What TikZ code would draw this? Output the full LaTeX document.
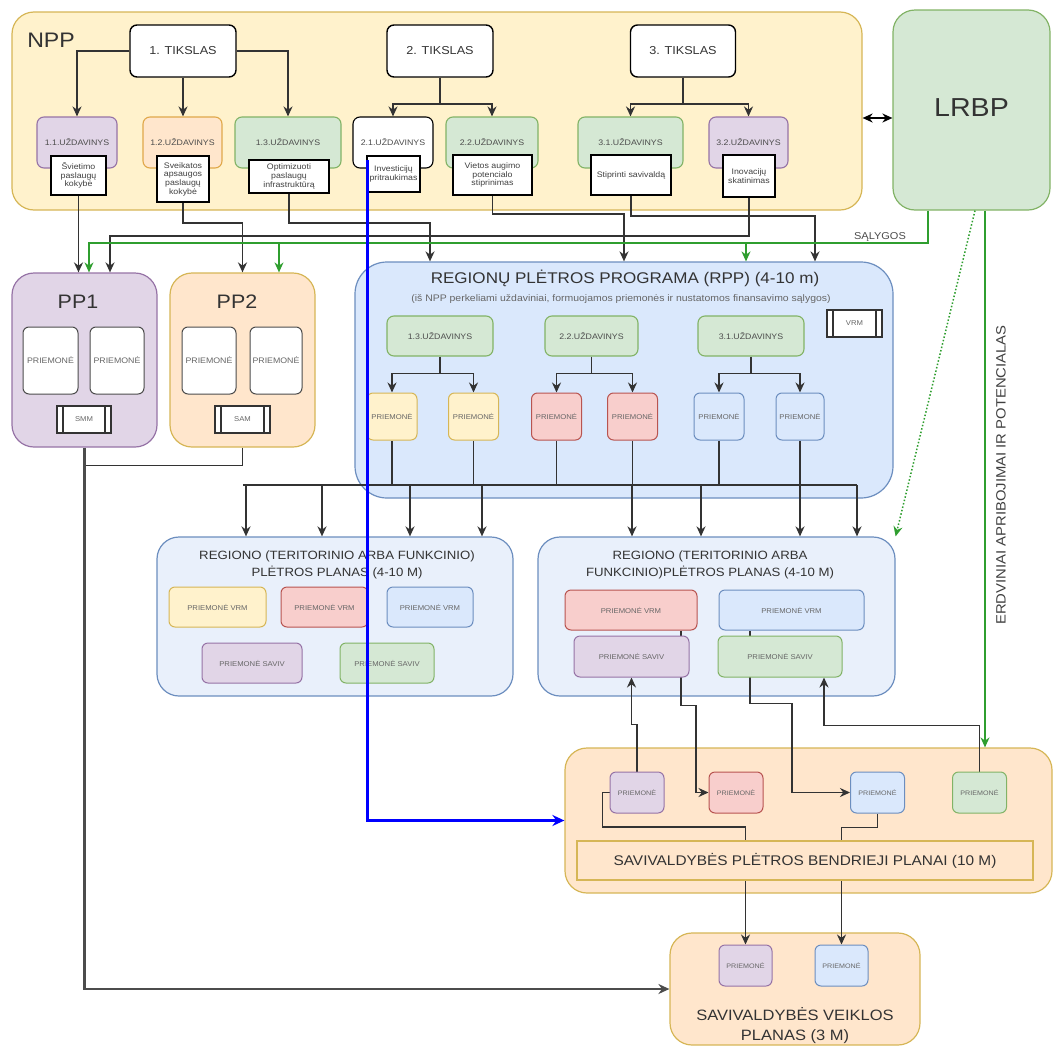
\documentclass[tikz,border=0pt]{standalone}
\usepackage{fontspec}
\setmainfont{Liberation Sans}[FakeStretch=1.1]
\usetikzlibrary{arrows.meta}
\usetikzlibrary{positioning}

\definecolor{ylwF}{HTML}{FFF2CC}\definecolor{ylwD}{HTML}{D6B656}
\definecolor{orgF}{HTML}{FFE6CC}\definecolor{orgD}{HTML}{E0A84A}
\definecolor{prpF}{HTML}{E1D5E7}\definecolor{prpD}{HTML}{9673A6}
\definecolor{grnF}{HTML}{D5E8D4}\definecolor{grnD}{HTML}{82B366}
\definecolor{redF}{HTML}{F8CECC}\definecolor{redD}{HTML}{B85450}
\definecolor{bluF}{HTML}{DAE8FC}\definecolor{bluD}{HTML}{6C8EBF}
\definecolor{rplF}{HTML}{E9F0FB}
\definecolor{lnk}{HTML}{333333}
\definecolor{glnk}{HTML}{2F9E2F}
\definecolor{txt}{HTML}{333333}

\pgfdeclarelayer{bg}
\pgfdeclarelayer{lines}
\pgfsetlayers{bg,lines,main}

\tikzset{
 cont/.style={draw, line width=1.2pt, rounded corners=22pt, inner sep=0pt},
 tiksl/.style={draw=black, fill=white, line width=1.4pt, rounded corners=7pt, minimum width=106pt, minimum height=52pt, font=\fontsize{11.5}{13}\selectfont, text=txt},
 udz/.style={draw, line width=1.1pt, rounded corners=7pt, minimum height=51pt, inner sep=0pt, font=\fontsize{8}{9}\selectfont, text=black!70},
 desc/.style={draw=black, fill=white, line width=1.4pt, align=center, inner sep=0pt, font=\fontsize{8}{8.7}\selectfont, text=black!75},
 prm/.style={draw, line width=1pt, rounded corners=6pt, inner sep=0pt, font=\fontsize{7}{8}\selectfont, text=black!60},
 proc/.style={draw=black!80, fill=white, line width=1.1pt, minimum width=54pt, minimum height=27pt, inner sep=0pt, font=\fontsize{7}{8}\selectfont, text=black!60,
  path picture={\draw[line width=1.1pt] ([xshift=6pt]path picture bounding box.north west) -- ([xshift=6pt]path picture bounding box.south west);
   \draw[line width=1.1pt] ([xshift=-6pt]path picture bounding box.north east) -- ([xshift=-6pt]path picture bounding box.south east);}},
 ln/.style={draw=lnk, line width=1.7pt},
 arr/.style={draw=lnk, line width=1.7pt, -{Stealth[length=10pt,width=9pt]}},
 dbl/.style={draw=black, line width=1.7pt, {Stealth[length=10pt,width=9pt]}-{Stealth[length=10pt,width=9pt]}},
 garr/.style={draw=glnk, line width=1.5pt, -{Stealth[length=10pt,width=9pt]}},
 parr/.style={draw=black!70, line width=2.2pt, -{Stealth[length=11pt,width=10pt]}},
 barr/.style={draw=blue, line width=2.4pt, -{Stealth[length=12pt,width=11pt]}}
}

\begin{document}
\begin{tikzpicture}[x=1pt,y=-1pt]
\useasboundingbox (0,0) rectangle (1053,1047);

% containers
\begin{pgfonlayer}{bg}
\node[cont, fill=ylwF, draw=ylwD, minimum width=850pt, minimum height=198pt] (npp) at (437,111) {};
\node[cont, fill=grnF, draw=grnD, minimum width=157pt, minimum height=200pt] (lrbp) at (971.5,110) {};
\node[cont, fill=prpF, draw=prpD, minimum width=145pt, minimum height=174pt] (pp1) at (84.5,360) {};
\node[cont, fill=orgF, draw=ylwD, minimum width=145pt, minimum height=174pt] (pp2) at (242.5,360) {};
\node[cont, rounded corners=32pt, fill=bluF, draw=bluD, minimum width=538pt, minimum height=236pt] (rpp) at (624,380) {};
\node[cont, fill=rplF, draw=bluD, minimum width=356pt, minimum height=159pt] (rpl1) at (335,616.5) {};
\node[cont, fill=rplF, draw=bluD, minimum width=357pt, minimum height=159pt] (rpl2) at (716.5,616.5) {};
\node[cont, fill=orgF, draw=ylwD, minimum width=487pt, minimum height=145pt] (svbp) at (808.5,820.5) {};
\node[cont, fill=orgF, draw=ylwD, minimum width=250pt, minimum height=112pt] (svp) at (795,989) {};
\end{pgfonlayer}

% titles
\node[font=\fontsize{21}{24}\selectfont, text=txt] (nppT) at (51,40) {NPP};
\node[font=\fontsize{26}{30}\selectfont, text=txt] (lrbpT) at (971.5,108) {LRBP};
\node[font=\fontsize{19.5}{22}\selectfont, text=txt] (pp1T) at (78,302) {PP1};
\node[font=\fontsize{19.5}{22}\selectfont, text=txt] (pp2T) at (237,302) {PP2};
\node[font=\fontsize{15.5}{18}\selectfont, text=txt] (rppT) at (625,278) {REGIONŲ PLĖTROS PROGRAMA (RPP) (4-10 m)};
\node[font=\fontsize{9.5}{11}\selectfont, text=black!60] (rppS) at (621,299) {(iš NPP perkeliami uždaviniai, formuojamos priemonės ir nustatomos finansavimo sąlygos)};
\node[font=\fontsize{12}{17}\selectfont, align=center, text=txt] (rpl1T) at (337,564.5) {REGIONO (TERITORINIO ARBA FUNKCINIO)\\PLĖTROS PLANAS (4-10 M)};
\node[font=\fontsize{12}{17}\selectfont, align=center, text=txt] (rpl2T) at (710,564.5) {REGIONO (TERITORINIO ARBA\\FUNKCINIO)PLĖTROS PLANAS (4-10 M)};
\node[font=\fontsize{15}{20}\selectfont, align=center, text=txt] (svpT) at (795,1026) {SAVIVALDYBĖS VEIKLOS\\PLANAS (3 M)};
\node[font=\fontsize{10}{12}\selectfont, text=black!70] (salyg) at (880,237) {SĄLYGOS};
\node[rotate=90, font=\fontsize{13.5}{15}\selectfont, text=black!75] (erdv) at (1001,475) {ERDVINIAI APRIBOJIMAI IR POTENCIALAS};

% NPP
\node[tiksl] (t1) at (183,51) {1. TIKSLAS};
\node[tiksl] (t2) at (440,51) {2. TIKSLAS};
\node[tiksl, minimum width=105pt] (t3) at (683,51) {3. TIKSLAS};
\node[udz, fill=prpF, draw=prpD, minimum width=80pt] (u11) at (77,142.5) {1.1.UŽDAVINYS};
\node[udz, fill=orgF, draw=orgD, minimum width=79pt] (u12) at (182.5,142.5) {1.2.UŽDAVINYS};
\node[udz, fill=grnF, draw=grnD, minimum width=106pt] (u13) at (288,142.5) {1.3.UŽDAVINYS};
\node[udz, fill=white, draw=black, minimum width=80pt] (u21) at (393,142.5) {2.1.UŽDAVINYS};
\node[udz, fill=grnF, draw=grnD, minimum width=92pt] (u22) at (492,142.5) {2.2.UŽDAVINYS};
\node[udz, fill=grnF, draw=grnD, minimum width=105pt] (u31) at (630.5,142.5) {3.1.UŽDAVINYS};
\node[udz, fill=prpF, draw=prpD, minimum width=79pt] (u32) at (748.5,142.5) {3.2.UŽDAVINYS};
\node[desc, minimum width=55pt, minimum height=39pt] (d11) at (78.5,175.5) {Švietimo\\paslaugų\\kokybė};
\node[desc, minimum width=52pt, minimum height=46pt] (d12) at (183,179) {Sveikatos\\apsaugos\\paslaugų\\kokybė};
\node[desc, minimum width=80pt, minimum height=33pt] (d13) at (289,176.5) {Optimizuoti\\paslaugų\\infrastruktūrą};
\node[desc, minimum width=53pt, minimum height=36pt] (d21) at (393.5,174) {Investicijų\\pritraukimas};
\node[desc, minimum width=79pt, minimum height=40pt] (d22) at (492.5,175) {Vietos augimo\\potencialo\\stiprinimas};
\node[desc, minimum width=80pt, minimum height=40pt] (d31) at (631,175) {Stiprinti savivaldą};
\node[desc, minimum width=52pt, minimum height=42pt] (d32) at (749,176) {Inovacijų\\skatinimas};

% PP1, PP2
\node[prm, fill=white, draw=black!70, minimum width=55pt, minimum height=67pt, font=\fontsize{8}{9}\selectfont] (p1a) at (50.5,360.5) {PRIEMONĖ};
\node[prm, fill=white, draw=black!70, minimum width=54pt, minimum height=67pt, font=\fontsize{8}{9}\selectfont] (p1b) at (117,360.5) {PRIEMONĖ};
\node[proc] (smm) at (84,419.5) {SMM};
\node[prm, fill=white, draw=black!70, minimum width=54pt, minimum height=67pt, font=\fontsize{8}{9}\selectfont] (p2a) at (209,360.5) {PRIEMONĖ};
\node[prm, fill=white, draw=black!70, minimum width=52pt, minimum height=67pt, font=\fontsize{8}{9}\selectfont] (p2b) at (276,360.5) {PRIEMONĖ};
\node[proc, minimum width=55pt] (sam) at (242.5,419.5) {SAM};

% RPP
\node[proc, minimum width=55pt] (vrm) at (854.5,323.5) {VRM};
\node[udz, fill=grnF, draw=grnD, minimum width=106pt, minimum height=40pt] (r13) at (440,336) {1.3.UŽDAVINYS};
\node[udz, fill=grnF, draw=grnD, minimum width=93pt, minimum height=40pt] (r22) at (591.5,336) {2.2.UŽDAVINYS};
\node[udz, fill=grnF, draw=grnD, minimum width=106pt, minimum height=40pt] (r31) at (751,336) {3.1.UŽDAVINYS};
\node[prm, fill=ylwF, draw=ylwD, minimum width=50pt, minimum height=47pt] (ry1) at (392,416.5) {PRIEMONĖ};
\node[prm, fill=ylwF, draw=ylwD, minimum width=50pt, minimum height=47pt] (ry2) at (473.5,416.5) {PRIEMONĖ};
\node[prm, fill=redF, draw=redD, minimum width=50pt, minimum height=47pt] (rr1) at (556.5,416.5) {PRIEMONĖ};
\node[prm, fill=redF, draw=redD, minimum width=50pt, minimum height=47pt] (rr2) at (632.5,416.5) {PRIEMONĖ};
\node[prm, fill=bluF, draw=bluD, minimum width=50pt, minimum height=47pt] (rb1) at (719,416.5) {PRIEMONĖ};
\node[prm, fill=bluF, draw=bluD, minimum width=48pt, minimum height=47pt] (rb2) at (800,416.5) {PRIEMONĖ};

% regiono planai
\node[prm, fill=ylwF, draw=ylwD, minimum width=97pt, minimum height=40pt] (a1) at (217.5,607) {PRIEMONĖ VRM};
\node[prm, fill=redF, draw=redD, minimum width=87pt, minimum height=40pt] (a2) at (324.5,607) {PRIEMONĖ VRM};
\node[prm, fill=bluF, draw=bluD, minimum width=86pt, minimum height=40pt] (a3) at (430,607) {PRIEMONĖ VRM};
\node[prm, fill=prpF, draw=prpD, minimum width=100pt, minimum height=40pt] (a4) at (252,663) {PRIEMONĖ SAVIV};
\node[prm, fill=grnF, draw=grnD, minimum width=94pt, minimum height=40pt] (a5) at (387,663) {PRIEMONĖ SAVIV};
\node[prm, fill=redF, draw=redD, minimum width=132pt, minimum height=40pt] (b1) at (631,610) {PRIEMONĖ VRM};
\node[prm, fill=bluF, draw=bluD, minimum width=145pt, minimum height=40pt] (b2) at (791.5,610) {PRIEMONĖ VRM};
\node[prm, fill=prpF, draw=prpD, minimum width=115pt, minimum height=41pt] (b3) at (631.5,656.5) {PRIEMONĖ SAVIV};
\node[prm, fill=grnF, draw=grnD, minimum width=124pt, minimum height=41pt] (b4) at (780,656.5) {PRIEMONĖ SAVIV};

% savivaldybes planai
\node[prm, fill=prpF, draw=prpD, minimum width=54pt, minimum height=41pt, font=\fontsize{6.5}{8}\selectfont] (s1) at (637,792.5) {PRIEMONĖ};
\node[prm, fill=redF, draw=redD, minimum width=54pt, minimum height=41pt, font=\fontsize{6.5}{8}\selectfont] (s2) at (736,792.5) {PRIEMONĖ};
\node[prm, fill=bluF, draw=bluD, minimum width=54pt, minimum height=41pt, font=\fontsize{6.5}{8}\selectfont] (s3) at (877.5,792.5) {PRIEMONĖ};
\node[prm, fill=grnF, draw=grnD, minimum width=54pt, minimum height=41pt, font=\fontsize{6.5}{8}\selectfont] (s4) at (979.5,792.5) {PRIEMONĖ};
\node[draw=ylwD, fill=orgF, line width=1.2pt, minimum width=456pt, minimum height=39pt, inner sep=0pt, font=\fontsize{14}{16}\selectfont, text=txt] (sbox) at (805,860.5) {SAVIVALDYBĖS PLĖTROS BENDRIEJI PLANAI (10 M)};
\node[prm, fill=prpF, draw=prpD, minimum width=53pt, minimum height=41pt, font=\fontsize{6.5}{8}\selectfont] (v1) at (745.5,965.5) {PRIEMONĖ};
\node[prm, fill=bluF, draw=bluD, minimum width=53pt, minimum height=41pt, font=\fontsize{6.5}{8}\selectfont] (v2) at (841.5,965.5) {PRIEMONĖ};

% connectors
\begin{pgfonlayer}{lines}
\draw[arr] (t1.west) -| (u11.north);
\draw[arr] (t1.south) -- (t1.south |- u12.north);
\draw[arr] (t1.east) -| (u13.north);
\draw[arr] (t2.south) -- ++(0,26) -| (u21.north);
\draw[arr] (t2.south) -- ++(0,26) -| (u22.north);
\draw[arr] (t3.south) -- ++(0,26) -| (u31.north);
\draw[arr] (t3.south) -- ++(0,26) -| (u32.north);

\coordinate (rppIn1) at ([xshift=-194pt]rpp.north);
\coordinate (rppIn3) at ([xshift=191pt]rpp.north);
\coordinate (pp1In) at ([xshift=25.5pt]pp1.north);
\draw[arr] (d11.south) -- (d11.south |- pp1.north);
\draw[arr] (d12.south) -- ++(0,20) -| (pp2.north);
\draw[arr] (d13.south) -- ++(0,29) -| (rppIn1);
\draw[arr] (d22.south) -- ++(0,18) -| (rpp.north);
\draw[arr] (d31.south) -- ++(0,20) -| (rppIn3);
\draw[arr] (d32.south) -- ++(0,38) -| (pp1In);

\coordinate (dA) at ([yshift=-7pt]npp.east);
\draw[dbl] (dA) -- (dA -| lrbp.west);
\coordinate (lrbpG) at ([xshift=-43.5pt]lrbp.south);
\coordinate (gbus) at (0,243);
\coordinate (pp1G) at ([xshift=4.5pt]pp1.north);
\coordinate (pp2G) at ([xshift=36.5pt]pp2.north);
\coordinate (rppG) at ([xshift=122pt]rpp.north);
\draw[garr] (lrbpG) |- (pp1G |- gbus) -- (pp1G);
\draw[garr] (pp2G |- gbus) -- (pp2G);
\draw[garr] (rppG |- gbus) -- (rppG);
\coordinate (lrbpE) at ([xshift=13.5pt]lrbp.south);
\draw[garr] (lrbpE) -- (lrbpE |- svbp.north);
\draw[garr, dotted] ([xshift=3.5pt]lrbp.south) -- (rpl2.north east);

\draw[arr] (r13.south) -- ++(0,17) -| (ry1.north);
\draw[arr] (r13.south) -- ++(0,17) -| (ry2.north);
\draw[arr] (r22.south) -- ++(0,17) -| (rr1.north);
\draw[arr] (r22.south) -- ++(0,17) -| (rr2.north);
\draw[arr] (r31.south) -- ++(0,17) -| (rb1.north);
\draw[arr] (r31.south) -- ++(0,17) -| (rb2.north);

\coordinate (busL) at (243,485);
\coordinate (busR) at (857,485);
\draw[ln] (busL) -- (busR);
\foreach \n in {ry1,ry2,rr1,rr2,rb1,rb2} \draw[ln] (\n.south) -- (\n.south |- busL);
\foreach \x in {246,322,410,482} \draw[arr] (busL -| \x,0) -- (\x,0 |- rpl1.north);
\foreach \x in {632,701,800,857} \draw[arr] (busL -| \x,0) -- (\x,0 |- rpl2.north);

\draw[ln] (pp2.south) -- ++(0,18) -| (pp1.south);
\draw[parr] (pp1.south) |- (svp.west);

\coordinate (b1o) at ([xshift=50pt]b1.south);
\coordinate (b2o) at ([xshift=-41.5pt]b2.south);
\coordinate (b4i) at ([xshift=44pt]b4.south);
\draw[arr] (s1.north) -- ++(0,-47) -| (b3.south);
\draw[arr] (b1o) -- ++(0,75) -- ++(15,0) |- (s2.west);
\draw[arr] (b2o) -- ++(0,73) -- ++(42,0) |- (s3.west);
\draw[arr] (s4.north) -- ++(0,-46) -| (b4i);
\draw[arr] (s1.west) -- ++(-7,0) -- ++(0,34.5) -| (v1.north);
\draw[arr] (s3.south) -- ++(0,14) -| (v2.north);
\end{pgfonlayer}

\draw[barr] ([xshift=1pt,yshift=14pt]d21.west) |- (svbp.west);
\end{tikzpicture}
\end{document}
